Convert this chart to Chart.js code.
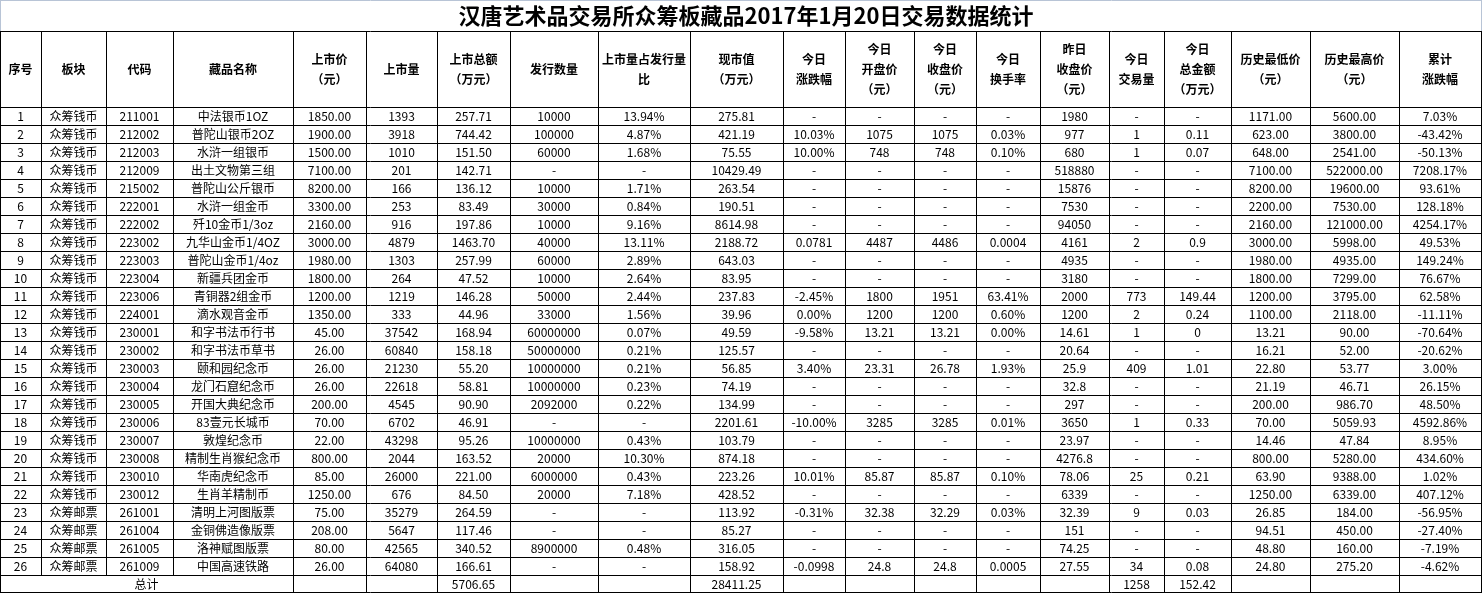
<!DOCTYPE html>
<html>
<head>
<meta charset="utf-8">
<script src="https://cdn.jsdelivr.net/npm/chart.js@4/dist/chart.umd.min.js"></script>
<style>
html, body { margin: 0; padding: 0; background: #fff; }
#wrap { width: 1482px; height: 593px; }
</style>
</head>
<body>
<div id="wrap"><canvas id="tableChart"></canvas></div>
<script>
// 数据
const title = '汉唐艺术品交易所众筹板藏品2017年1月20日交易数据统计';
const headers = [['序号'], ['板块'], ['代码'], ['藏品名称'], ['上市价', '（元）'], ['上市量'], ['上市总额', '（万元）'],
  ['发行数量'], ['上市量占发行量', '比'], ['现市值', '（万元）'], ['今日', '涨跌幅'], ['今日', '开盘价', '（元）'],
  ['今日', '收盘价', '（元）'], ['今日', '换手率'], ['昨日', '收盘价', '（元）'], ['今日', '交易量'], ['今日', '总金额', '（万元）'],
  ['历史最低价', '（元）'], ['历史最高价', '（元）'], ['累计', '涨跌幅']];
const seq = Array.from({length: 26}, (_, i) => String(i + 1));
const board = ['众筹钱币','众筹钱币','众筹钱币','众筹钱币','众筹钱币','众筹钱币','众筹钱币','众筹钱币','众筹钱币','众筹钱币','众筹钱币','众筹钱币','众筹钱币','众筹钱币','众筹钱币','众筹钱币','众筹钱币','众筹钱币','众筹钱币','众筹钱币','众筹钱币','众筹钱币','众筹邮票','众筹邮票','众筹邮票','众筹邮票'];
const codes = ['211001','212002','212003','212009','215002','222001','222002','223002','223003','223004','223006','224001','230001','230002','230003','230004','230005','230006','230007','230008','230010','230012','261001','261004','261005','261009'];
const names = ['中法银币1OZ','普陀山银币2OZ','水浒一组银币','出土文物第三组','普陀山公斤银币','水浒一组金币','歼10金币1/3oz','九华山金币1/4OZ','普陀山金币1/4oz','新疆兵团金币','青铜器2组金币','滴水观音金币','和字书法币行书','和字书法币草书','颐和园纪念币','龙门石窟纪念币','开国大典纪念币','83壹元长城币','敦煌纪念币','精制生肖猴纪念币','华南虎纪念币','生肖羊精制币','清明上河图版票','金铜佛造像版票','洛神赋图版票','中国高速铁路'];
const listPrice = ['1850.00','1900.00','1500.00','7100.00','8200.00','3300.00','2160.00','3000.00','1980.00','1800.00','1200.00','1350.00','45.00','26.00','26.00','26.00','200.00','70.00','22.00','800.00','85.00','1250.00','75.00','208.00','80.00','26.00'];
const listQty = ['1393','3918','1010','201','166','253','916','4879','1303','264','1219','333','37542','60840','21230','22618','4545','6702','43298','2044','26000','676','35279','5647','42565','64080'];
const listTotal = ['257.71','744.42','151.50','142.71','136.12','83.49','197.86','1463.70','257.99','47.52','146.28','44.96','168.94','158.18','55.20','58.81','90.90','46.91','95.26','163.52','221.00','84.50','264.59','117.46','340.52','166.61'];
const issueQty = ['10000','100000','60000','-','10000','30000','10000','40000','60000','10000','50000','33000','60000000','50000000','10000000','10000000','2092000','-','10000000','20000','6000000','20000','-','-','8900000','-'];
const listRatio = ['13.94%','4.87%','1.68%','-','1.71%','0.84%','9.16%','13.11%','2.89%','2.64%','2.44%','1.56%','0.07%','0.21%','0.21%','0.23%','0.22%','-','0.43%','10.30%','0.43%','7.18%','-','-','0.48%','-'];
const marketValue = ['275.81','421.19','75.55','10429.49','263.54','190.51','8614.98','2188.72','643.03','83.95','237.83','39.96','49.59','125.57','56.85','74.19','134.99','2201.61','103.79','874.18','223.26','428.52','113.92','85.27','316.05','158.92'];
const dayChange = ['-','10.03%','10.00%','-','-','-','-','0.0781','-','-','-2.45%','0.00%','-9.58%','-','3.40%','-','-','-10.00%','-','-','10.01%','-','-0.31%','-','-','-0.0998'];
const openPrice = ['-','1075','748','-','-','-','-','4487','-','-','1800','1200','13.21','-','23.31','-','-','3285','-','-','85.87','-','32.38','-','-','24.8'];
const closePrice = ['-','1075','748','-','-','-','-','4486','-','-','1951','1200','13.21','-','26.78','-','-','3285','-','-','85.87','-','32.29','-','-','24.8'];
const turnover = ['-','0.03%','0.10%','-','-','-','-','0.0004','-','-','63.41%','0.60%','0.00%','-','1.93%','-','-','0.01%','-','-','0.10%','-','0.03%','-','-','0.0005'];
const prevClose = ['1980','977','680','518880','15876','7530','94050','4161','4935','3180','2000','1200','14.61','20.64','25.9','32.8','297','3650','23.97','4276.8','78.06','6339','32.39','151','74.25','27.55'];
const dayVolume = ['-','1','1','-','-','-','-','2','-','-','773','2','1','-','409','-','-','1','-','-','25','-','9','-','-','34'];
const dayAmount = ['-','0.11','0.07','-','-','-','-','0.9','-','-','149.44','0.24','0','-','1.01','-','-','0.33','-','-','0.21','-','0.03','-','-','0.08'];
const histLow = ['1171.00','623.00','648.00','7100.00','8200.00','2200.00','2160.00','3000.00','1980.00','1800.00','1200.00','1100.00','13.21','16.21','22.80','21.19','200.00','70.00','14.46','800.00','63.90','1250.00','26.85','94.51','48.80','24.80'];
const histHigh = ['5600.00','3800.00','2541.00','522000.00','19600.00','7530.00','121000.00','5998.00','4935.00','7299.00','3795.00','2118.00','90.00','52.00','53.77','46.71','986.70','5059.93','47.84','5280.00','9388.00','6339.00','184.00','450.00','160.00','275.20'];
const cumChange = ['7.03%','-43.42%','-50.13%','7208.17%','93.61%','128.18%','4254.17%','49.53%','149.24%','76.67%','62.58%','-11.11%','-70.64%','-20.62%','3.00%','26.15%','48.50%','4592.86%','8.95%','434.60%','1.02%','407.12%','-56.95%','-27.40%','-7.19%','-4.62%'];
const totalLabel = '总计';
const totalRow = ['', '', '', '', '', '', '5706.65', '', '', '28411.25', '', '', '', '', '', '1258', '152.42', '', '', ''];

const columns = [seq, board, codes, names, listPrice, listQty, listTotal, issueQty, listRatio, marketValue,
  dayChange, openPrice, closePrice, turnover, prevClose, dayVolume, dayAmount, histLow, histHigh, cumChange];

// 版式 (像素单位的刻度)
const colEdges = [0, 41, 106, 173, 293, 366, 437, 510, 598, 690, 783, 845, 914, 976, 1040, 1109, 1164, 1231, 1310, 1399, 1481];
const titleBottom = 31, headerBottom = 107, rowH = 18;

const tablePlugin = {
  id: 'table',
  afterDraw(chart) {
    const ctx = chart.ctx, xs = chart.scales.x, ys = chart.scales.y;
    const X = v => xs.getPixelForValue(v), Y = v => ys.getPixelForValue(v);
    const nRows = seq.length;
    const rowTop = r => headerBottom + r * rowH;
    const bottom = rowTop(nRows + 1);
    ctx.save();
    // 顶部浅色边线
    ctx.strokeStyle = '#b8c4d6';
    ctx.beginPath();
    ctx.moveTo(X(0), 0.5); ctx.lineTo(X(1482), 0.5);
    ctx.moveTo(0.5, 0); ctx.lineTo(0.5, Y(titleBottom));
    ctx.moveTo(X(1481) + 0.5, 0); ctx.lineTo(X(1481) + 0.5, Y(titleBottom));
    ctx.stroke();
    // 标题
    ctx.fillStyle = '#000';
    ctx.textAlign = 'center';
    ctx.textBaseline = 'middle';
    ctx.font = 'bold 22px "Noto Sans CJK SC"';
    ctx.fillText(title, X(746), Y(16));
    // 网格线
    ctx.strokeStyle = '#000';
    ctx.lineWidth = 1;
    ctx.beginPath();
    [titleBottom, headerBottom].concat(Array.from({length: nRows + 1}, (_, r) => rowTop(r + 1))).forEach(v => {
      const py = Math.min(Math.round(Y(v)) + 0.5, chart.height - 0.5);
      ctx.moveTo(X(0), py); ctx.lineTo(X(1482), py);
    });
    colEdges.forEach((e, i) => {
      const px = Math.round(X(e)) + 0.5;
      const yEnd = (i >= 1 && i <= 3) ? rowTop(nRows) : bottom;
      ctx.moveTo(px, Y(titleBottom)); ctx.lineTo(px, Y(yEnd));
    });
    ctx.stroke();
    // 表头
    ctx.font = 'bold 12px "Noto Sans CJK SC"';
    headers.forEach((lines, c) => {
      const cx = X((colEdges[c] + colEdges[c + 1]) / 2);
      const cy = (titleBottom + headerBottom) / 2;
      lines.forEach((t, k) => ctx.fillText(t, cx, Y(cy + (k - (lines.length - 1) / 2) * 20)));
    });
    // 数据
    ctx.font = '12px "Noto Sans CJK SC"';
    columns.forEach((col, c) => {
      const cx = X((colEdges[c] + colEdges[c + 1]) / 2);
      col.forEach((t, r) => ctx.fillText(t, cx, Y(rowTop(r) + rowH / 2)));
    });
    // 总计
    const ty = Y(rowTop(nRows) + rowH / 2);
    ctx.fillText(totalLabel, X((colEdges[0] + colEdges[4]) / 2), ty);
    totalRow.forEach((t, c) => { if (t) ctx.fillText(t, X((colEdges[c] + colEdges[c + 1]) / 2), ty); });
    ctx.restore();
  }
};

const tableChart = new Chart(document.getElementById('tableChart').getContext('2d'), {
  type: 'scatter',
  data: { datasets: [{ data: [] }] },
  options: {
    responsive: true,
    maintainAspectRatio: false,
    animation: false,
    layout: { padding: 0 },
    plugins: { legend: { display: false }, tooltip: { enabled: false } },
    scales: {
      x: { type: 'linear', min: 0, max: 1482, display: false },
      y: { type: 'linear', min: 0, max: 593, reverse: true, display: false }
    }
  },
  plugins: [tablePlugin]
});
</script>
</body>
</html>
